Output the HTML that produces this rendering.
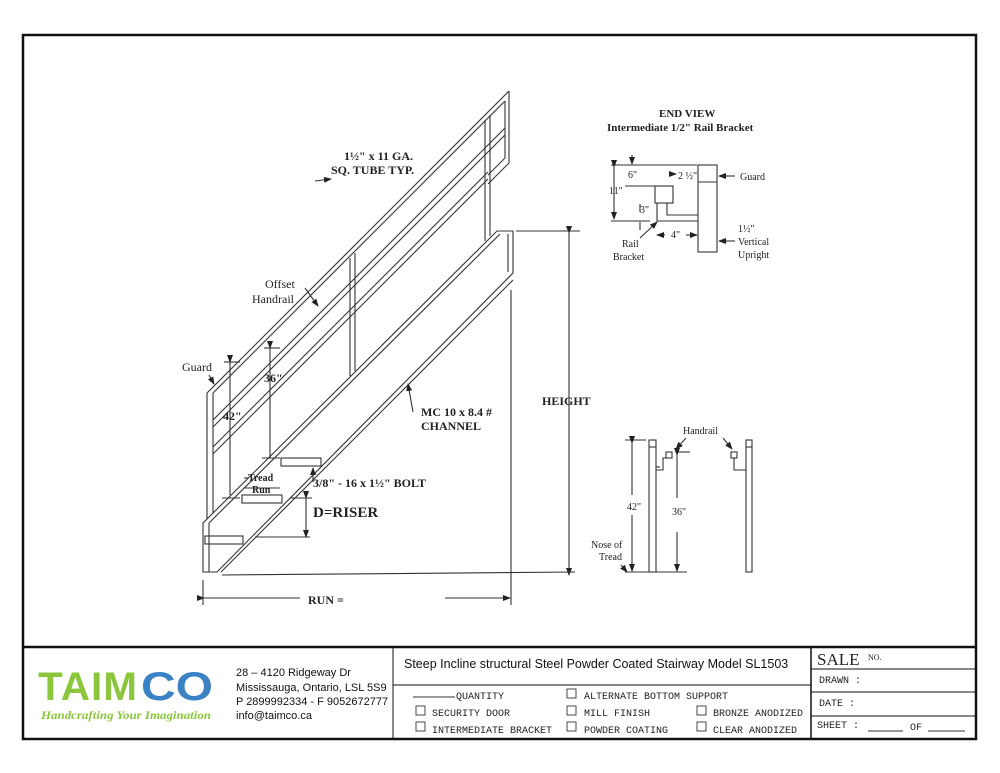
<!DOCTYPE html>
<html><head><meta charset="utf-8"><style>
html,body{margin:0;padding:0;background:#fff;width:1000px;height:773px;overflow:hidden}
svg{display:block}
.s{font-family:"Liberation Serif",serif;fill:#222}
.b{font-weight:bold}
.m{font-family:"Liberation Mono",monospace;fill:#222;font-size:10px}
.a{font-family:"Liberation Sans",sans-serif;fill:#111}
</style></head><body>
<svg width="1000" height="773" viewBox="0 0 1000 773" xmlns="http://www.w3.org/2000/svg">
<defs><marker id="ar" markerWidth="8" markerHeight="8" refX="7" refY="4" orient="auto" markerUnits="userSpaceOnUse"><path d="M0,1 L8,4 L0,7z" fill="#222"/></marker></defs>
<rect x="0" y="0" width="1000" height="773" fill="#fff"/>
<rect x="23" y="35" width="953" height="704" fill="none" stroke="#111" stroke-width="2.5"/>
<g stroke="#333" stroke-width="1.1" fill="none">
<line x1="207" y1="393" x2="509" y2="91"/>
<line x1="213" y1="393" x2="505" y2="101"/>
<line x1="213" y1="420" x2="505" y2="128"/>
<line x1="213" y1="427" x2="505" y2="135"/>
<line x1="213" y1="447" x2="488" y2="172"/>
<line x1="213" y1="454" x2="488" y2="179"/>
<line x1="207" y1="393" x2="207" y2="519"/>
<line x1="213" y1="393" x2="213" y2="513"/>
<line x1="509" y1="91" x2="509" y2="163"/>
<line x1="505" y1="101" x2="505" y2="158"/>
<line x1="509" y1="163" x2="488" y2="184"/>
<line x1="505" y1="158" x2="488" y2="175"/>
<line x1="350" y1="258" x2="350" y2="376"/>
<line x1="355" y1="253" x2="355" y2="371"/>
<line x1="485" y1="120" x2="485" y2="241"/>
<line x1="490" y1="115" x2="490" y2="236"/>
<polygon points="203,523 497,231 513,231 513,273 217,572 203,572"/>
<line x1="209" y1="523" x2="500" y2="234"/>
<line x1="221" y1="572" x2="513" y2="280"/>
<line x1="209" y1="523" x2="209" y2="572"/>
<line x1="508" y1="234" x2="508" y2="272"/>
<rect x="205" y="536" width="38" height="8"/>
<rect x="242" y="495" width="40" height="8"/>
<rect x="281" y="458" width="40" height="8"/>
<line x1="230" y1="362" x2="230" y2="495" marker-start="url(#ar)"/>
<line x1="224" y1="362" x2="240" y2="362"/>
<line x1="270" y1="348" x2="270" y2="458" marker-start="url(#ar)"/>
<line x1="264" y1="348" x2="280" y2="348"/>
<line x1="222" y1="498" x2="240" y2="498"/>
<line x1="262" y1="458" x2="280" y2="458"/>
<line x1="245" y1="488" x2="280" y2="488"/>
<line x1="306" y1="498" x2="306" y2="537" marker-start="url(#ar)" marker-end="url(#ar)"/>
<line x1="255" y1="537" x2="310" y2="537"/>
<line x1="290" y1="498" x2="312" y2="498"/>
<line x1="569" y1="233" x2="569" y2="575" marker-start="url(#ar)" marker-end="url(#ar)"/>
<line x1="516" y1="231" x2="580" y2="231"/>
<line x1="222" y1="575" x2="575" y2="572"/>
<line x1="511" y1="290" x2="511" y2="605"/>
<line x1="203" y1="580" x2="203" y2="605"/>
<line x1="204" y1="598" x2="300" y2="598" marker-start="url(#ar)"/>
<line x1="445" y1="598" x2="510" y2="598" marker-end="url(#ar)"/>
<line x1="315" y1="181" x2="331" y2="179" marker-end="url(#ar)"/>
<line x1="305" y1="288" x2="318" y2="306" marker-end="url(#ar)"/>
<line x1="209" y1="375" x2="214" y2="384" marker-end="url(#ar)"/>
<line x1="413" y1="412" x2="408" y2="384" marker-end="url(#ar)"/>
<line x1="313" y1="482" x2="313" y2="468" marker-end="url(#ar)"/>
<line x1="248" y1="478" x2="244" y2="478"/>
<rect x="698" y="165" width="19" height="87"/>
<line x1="698" y1="182" x2="717" y2="182"/>
<rect x="655" y="186" width="18" height="17"/>
<polyline points="657,203 657,221 698,221"/>
<polyline points="667,203 667,215 698,215"/>
<line x1="611" y1="165" x2="697" y2="165"/>
<line x1="611" y1="221" x2="650" y2="221"/>
<line x1="614" y1="167" x2="614" y2="219" marker-start="url(#ar)" marker-end="url(#ar)"/>
<line x1="632" y1="155" x2="632" y2="164" marker-end="url(#ar)"/>
<line x1="625" y1="186" x2="655" y2="186"/>
<line x1="640" y1="204" x2="640" y2="212"/>
<line x1="640" y1="222" x2="640" y2="230"/>
<line x1="672" y1="174" x2="676" y2="174" marker-end="url(#ar)"/>
<line x1="735" y1="176" x2="719" y2="176" marker-end="url(#ar)"/>
<line x1="735" y1="241" x2="719" y2="241" marker-end="url(#ar)"/>
<line x1="640" y1="238" x2="657" y2="222" marker-end="url(#ar)"/>
<line x1="665" y1="235" x2="657" y2="235" marker-end="url(#ar)"/>
<line x1="686" y1="235" x2="697" y2="235" marker-end="url(#ar)"/>
<rect x="649" y="440" width="7" height="132"/>
<line x1="649" y1="447" x2="656" y2="447"/>
<rect x="666" y="452" width="6" height="6"/>
<polyline points="656,470 663,470 663,458 667,458"/>
<polyline points="656,467 660,467"/>
<rect x="746" y="440" width="6" height="132"/>
<line x1="746" y1="447" x2="752" y2="447"/>
<rect x="731" y="452" width="6" height="6"/>
<polyline points="746,470 734,470 734,458"/>
<line x1="625" y1="440" x2="646" y2="440"/>
<line x1="632" y1="443" x2="632" y2="495" marker-start="url(#ar)"/>
<line x1="632" y1="515" x2="632" y2="571" marker-end="url(#ar)"/>
<line x1="625" y1="572" x2="687" y2="572"/>
<line x1="676" y1="452" x2="690" y2="452"/>
<line x1="677" y1="455" x2="677" y2="498" marker-start="url(#ar)"/>
<line x1="677" y1="532" x2="677" y2="571" marker-end="url(#ar)"/>
<line x1="686" y1="438" x2="676" y2="449" marker-end="url(#ar)"/>
<line x1="723" y1="438" x2="732" y2="449" marker-end="url(#ar)"/>
<line x1="621" y1="565" x2="627" y2="572" marker-end="url(#ar)"/>
</g>
<g stroke="#111" fill="none">
<line x1="23" y1="647" x2="976" y2="647" stroke-width="2.5"/>
<line x1="393" y1="647" x2="393" y2="739" stroke-width="1"/>
<line x1="811" y1="647" x2="811" y2="739" stroke-width="1.5"/>
<line x1="393" y1="685" x2="811" y2="685" stroke-width="1"/>
<line x1="811" y1="669" x2="976" y2="669" stroke-width="1"/>
<line x1="811" y1="692" x2="976" y2="692" stroke-width="1"/>
<line x1="811" y1="716" x2="976" y2="716" stroke-width="1"/>
<g stroke="#333" stroke-width="0.9">
<rect x="416" y="706" width="9" height="9"/><rect x="416" y="722" width="9" height="9"/>
<rect x="567" y="689" width="9" height="9"/><rect x="567" y="706" width="9" height="9"/><rect x="567" y="722" width="9" height="9"/>
<rect x="697" y="706" width="9" height="9"/><rect x="697" y="722" width="9" height="9"/>
<line x1="413" y1="697" x2="455" y2="697"/>
<line x1="868" y1="731" x2="903" y2="731"/>
<line x1="928" y1="731" x2="965" y2="731"/>
</g>
</g>
<g class="s b" font-size="12">
<text x="344" y="160">1½" x 11 GA.</text>
<text x="331" y="174">SQ. TUBE TYP.</text>
<text x="421" y="416">MC 10 x 8.4 #</text>
<text x="421" y="430">CHANNEL</text>
<text x="542" y="405" font-size="12">HEIGHT</text>
<text x="264" y="382" font-size="12">36"</text>
<text x="223" y="420" font-size="12">42"</text>
<text x="313" y="487">3/8" - 16 x 1½" BOLT</text>
<text x="313" y="517" font-size="15">D=RISER</text>
<text x="308" y="604" font-size="12">RUN =</text>
<text x="248" y="481" font-size="10">Tread</text>
<text x="252" y="493" font-size="10">Run</text>
<text x="659" y="117" font-size="11">END VIEW</text>
<text x="607" y="131" font-size="11">Intermediate 1/2" Rail Bracket</text>
</g>
<g class="s" font-size="12">
<text x="265" y="288">Offset</text>
<text x="252" y="303">Handrail</text>
<text x="182" y="371">Guard</text>
</g>
<g class="s" font-size="10">
<text x="628" y="178">6"</text>
<text x="678" y="179">2 ½"</text>
<text x="609" y="194">11"</text>
<text x="640" y="213">3"</text>
<text x="671" y="238">4"</text>
<text x="740" y="180">Guard</text>
<text x="738" y="232">1½"</text>
<text x="738" y="245">Vertical</text>
<text x="738" y="258">Upright</text>
<text x="622" y="247">Rail</text>
<text x="613" y="260">Bracket</text>
<text x="683" y="434">Handrail</text>
<text x="627" y="510">42"</text>
<text x="672" y="515">36"</text>
<text x="591" y="548">Nose of</text>
<text x="599" y="560">Tread</text>
</g>
<g font-family="Liberation Sans,sans-serif" font-weight="bold">
<text x="38" y="700" font-size="40" fill="#8cc63f" letter-spacing="1" textLength="100" lengthAdjust="spacingAndGlyphs">TAIM</text>
<text x="141" y="700" font-size="40" fill="#3b82c4" textLength="72" lengthAdjust="spacingAndGlyphs">CO</text>
</g>
<text x="41" y="719" font-family="Liberation Serif,serif" font-style="italic" font-weight="bold" font-size="12" fill="#8cc63f" textLength="170" lengthAdjust="spacingAndGlyphs">Handcrafting Your Imagination</text>
<g class="a" font-size="11">
<text x="236" y="676">28 – 4120 Ridgeway Dr</text>
<text x="236" y="691">Mississauga, Ontario, LSL 5S9</text>
<text x="236" y="705">P 2899992334 - F 9052672777</text>
<text x="236" y="719">info@taimco.ca</text>
<text x="404" y="668" font-size="12.5">Steep Incline structural Steel Powder Coated Stairway  Model SL1503</text>
</g>
<g class="m">
<text x="456" y="699">QUANTITY</text>
<text x="432" y="716">SECURITY DOOR</text>
<text x="432" y="733">INTERMEDIATE BRACKET</text>
<text x="584" y="699">ALTERNATE BOTTOM SUPPORT</text>
<text x="584" y="716">MILL FINISH</text>
<text x="584" y="733">POWDER COATING</text>
<text x="713" y="716">BRONZE ANODIZED</text>
<text x="713" y="733">CLEAR ANODIZED</text>
<text x="819" y="683">DRAWN :</text>
<text x="819" y="706">DATE :</text>
<text x="817" y="728">SHEET :</text>
<text x="910" y="730">OF</text>
</g>
<text x="817" y="665" class="s" font-size="17">SALE</text>
<text x="868" y="660" class="s" font-size="8">NO.</text>
</svg>
</body></html>
